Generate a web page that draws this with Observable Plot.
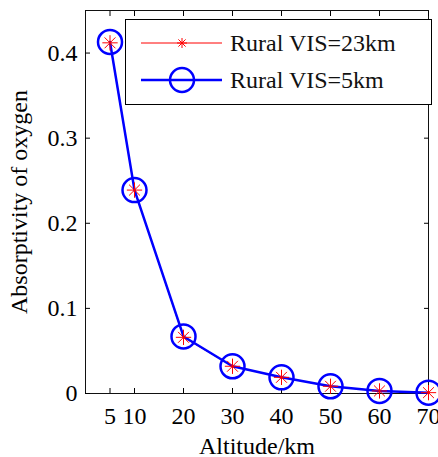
<!DOCTYPE html>
<html>
<head>
<meta charset="utf-8">
<script src="https://cdn.jsdelivr.net/npm/d3@7"></script>
<script src="https://cdn.jsdelivr.net/npm/@observablehq/plot@0.6"></script>
</head>
<body style="margin:0;background:#fff;font-family:'Liberation Serif','Times New Roman',Tinos,serif">
<div id="wrap" style="position:relative;width:438px;font-family:'Liberation Serif','Times New Roman',Tinos,serif"></div>
<script>
const altitude = [5, 10, 20, 30, 40, 50, 60, 70];
const rural23 = [0.412, 0.239, 0.066, 0.032, 0.019, 0.0085, 0.003, 0.001];
const rural5 = [0.413, 0.239, 0.067, 0.032, 0.019, 0.0085, 0.003, 0.001];
const xTicks = [5, 10, 20, 30, 40, 50, 60, 70];
const yTicks = [0, 0.1, 0.2, 0.3, 0.4];
const seriesNames = ["Rural VIS=23km", "Rural VIS=5km"];

const d23 = altitude.map((a, i) => ({x: a, y: rural23[i]}));
const d5 = altitude.map((a, i) => ({x: a, y: rural5[i]}));

const fontStack = "'Liberation Serif','Times New Roman',Tinos,serif";
const chart = Plot.plot({
  width: 438,
  height: 457,
  marginLeft: 85,
  marginRight: 10,
  marginTop: 10,
  marginBottom: 64,
  style: `font-family:${fontStack};font-size:24px`,
  x: {domain: [0, 70]},
  y: {domain: [0, 0.45]},
  marks: [
    Plot.frame({stroke: "#111", strokeWidth: 1}),
    Plot.axisX(xTicks, {tickSize: -5, tickFormat: () => "", label: null}),
    Plot.axisX(xTicks, {anchor: "top", tickSize: -5, tickFormat: () => "", label: null}),
    Plot.axisY(yTicks, {tickSize: -5, tickFormat: () => "", label: null}),
    Plot.axisY(yTicks, {anchor: "right", tickSize: -5, tickFormat: () => "", label: null}),
    Plot.axisX(xTicks, {tickSize: 0, tickPadding: 13, label: "Altitude/km", labelAnchor: "center", labelArrow: "none", labelOffset: 60}),
    Plot.axisY(yTicks, {tickSize: 0, tickPadding: 8, tickFormat: d => d === 0 ? "0" : d3.format(".1f")(d), label: "Absorptivity of oxygen", labelAnchor: "center", labelArrow: "none", labelOffset: 76}),
    Plot.line(d23, {x: "x", y: "y", stroke: "#ff0000", strokeWidth: 1}),
    Plot.line(d5, {x: "x", y: "y", stroke: "#0000ff", strokeWidth: 2.5}),
    Plot.dot(d5, {x: "x", y: "y", r: 12, stroke: "#0000ff", strokeWidth: 2.5, fill: "none"}),
    Plot.dot(d23, {x: "x", y: "y", symbol: "plus", r: 5, stroke: "#ff0000", strokeWidth: 1}),
    Plot.dot(d23, {x: "x", y: "y", symbol: "times", r: 5, stroke: "#ff0000", strokeWidth: 1})
  ]
});
const wrap = document.getElementById("wrap");
wrap.appendChild(chart);

const ns = "http://www.w3.org/2000/svg";
const legend = document.createElement("div");
legend.style.cssText = "position:absolute;left:125px;top:19px;width:307px;height:86px;border:1px solid #000;background:#fff;box-sizing:border-box;";
function row(top, name, kind) {
  const svg = document.createElementNS(ns, "svg");
  svg.setAttribute("width", 104); svg.setAttribute("height", 30);
  svg.style.cssText = `position:absolute;left:0;top:${top}px;display:block`;
  const line = document.createElementNS(ns, "line");
  line.setAttribute("x1", 15); line.setAttribute("x2", 96); line.setAttribute("y1", 15); line.setAttribute("y2", 15);
  if (kind === 0) {
    line.setAttribute("stroke", "#ff0000"); line.setAttribute("stroke-width", 1);
    svg.appendChild(line);
    const p = document.createElementNS(ns, "path");
    const c = 56, s = 5, d = 3.6;
    p.setAttribute("d", `M${c-s},15H${c+s}M${c},${15-s}V${15+s}M${c-d},${15-d}L${c+d},${15+d}M${c-d},${15+d}L${c+d},${15-d}`);
    p.setAttribute("stroke", "#ff0000"); p.setAttribute("stroke-width", 1);
    svg.appendChild(p);
  } else {
    line.setAttribute("stroke", "#0000ff"); line.setAttribute("stroke-width", 2.5);
    svg.appendChild(line);
    const ci = document.createElementNS(ns, "circle");
    ci.setAttribute("cx", 56); ci.setAttribute("cy", 15); ci.setAttribute("r", 12);
    ci.setAttribute("fill", "none"); ci.setAttribute("stroke", "#0000ff"); ci.setAttribute("stroke-width", 2.5);
    svg.appendChild(ci);
  }
  legend.appendChild(svg);
  const t = document.createElement("div");
  t.textContent = name;
  t.style.cssText = `position:absolute;left:104px;top:${top}px;height:30px;line-height:30px;font-family:${fontStack};font-size:24px;color:#111;white-space:nowrap`;
  legend.appendChild(t);
}
row(8, seriesNames[0], 0);
row(45, seriesNames[1], 1);
wrap.appendChild(legend);
</script>
</body>
</html>
